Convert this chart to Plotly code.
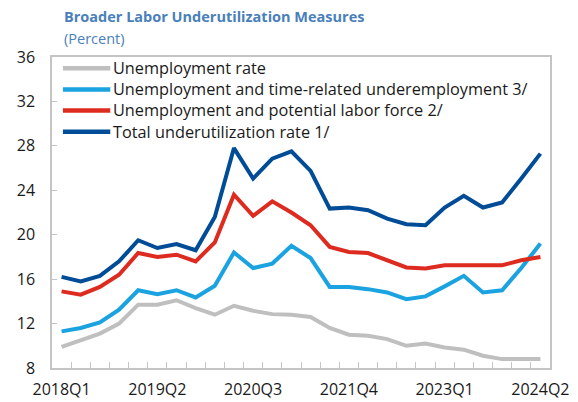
import plotly.graph_objects as go

quarters = [f"{y}Q{q}" for y in range(2018, 2025) for q in range(1, 5)][:26]

unemployment_rate = [9.9, 10.5, 11.1, 12.0, 13.7, 13.7, 14.1, 13.4, 12.8, 13.6, 13.15, 12.85,
                     12.8, 12.6, 11.6, 11.0, 10.9, 10.6, 10.0, 10.2, 9.85, 9.65, 9.1, 8.8, 8.8, 8.8]
time_related = [11.3, 11.6, 12.1, 13.25, 15.0, 14.65, 15.0, 14.35, 15.4, 18.4, 17.0, 17.4,
                19.0, 17.9, 15.3, 15.3, 15.1, 14.8, 14.2, 14.45, 15.35, 16.3, 14.8, 15.0, 17.0, 19.2]
potential_lf = [14.9, 14.6, 15.3, 16.4, 18.35, 18.0, 18.2, 17.6, 19.3, 23.6, 21.7, 23.0,
                22.0, 20.85, 18.9, 18.45, 18.35, 17.7, 17.05, 16.95, 17.25, 17.25, 17.25, 17.25, 17.7, 18.0]
total_rate = [16.2, 15.8, 16.3, 17.6, 19.5, 18.8, 19.15, 18.6, 21.6, 27.8, 25.05, 26.85,
              27.5, 25.75, 22.35, 22.45, 22.2, 21.45, 20.95, 20.85, 22.45, 23.5, 22.45, 22.9, 25.05, 27.3]

series = [
    ("Unemployment rate", unemployment_rate, "#BFBFBF"),
    ("Unemployment and time-related underemployment 3/", time_related, "#1AA3E0"),
    ("Unemployment and potential labor force 2/", potential_lf, "#DE2B20"),
    ("Total underutilization rate 1/", total_rate, "#004C97"),
]

label_idx = [0, 5, 10, 15, 20, 25]
x = list(range(len(quarters)))

font_family = "Open Sans"
axis_color = "#C4C4C4"
text_color = "#1a1a1a"
title_color = "#4A80BA"

fig = go.Figure()
for name, vals, color in series:
    fig.add_trace(go.Scatter(x=x, y=vals, mode="lines", name=name, showlegend=False,
                             line=dict(color=color, width=4)))

# Hand-placed legend: one line sample per series next to a stacked block of labels
legend_font = 16.3
legend_y = [0.964, 0.8958, 0.8277, 0.7595]
shapes = [
    dict(type="line", xref="paper", yref="paper", x0=0.022, x1=0.117, y0=ly, y1=ly,
         line=dict(color=color, width=4.5))
    for (_, _, color), ly in zip(series, legend_y)
]
annotations = [
    dict(text="<br>".join(name for name, _, _ in series), xref="paper", yref="paper",
         x=0.119, y=sum(legend_y) / 4, xanchor="left", yanchor="middle", align="left",
         showarrow=False, font=dict(size=legend_font, color=text_color)),
    dict(text="<b>Broader Labor Underutilization Measures</b>", xref="paper", yref="paper",
         x=0.02, y=1.0, xanchor="left", yanchor="bottom", yshift=29, showarrow=False,
         font=dict(size=14.5, color=title_color)),
    dict(text="(Percent)", xref="paper", yref="paper",
         x=0.02, y=1.0, xanchor="left", yanchor="bottom", yshift=7, showarrow=False,
         font=dict(size=14.5, color=title_color)),
]

fig.update_layout(
    width=578, height=402,
    margin=dict(l=52, r=28, t=57, b=34),
    paper_bgcolor="white", plot_bgcolor="white",
    font=dict(family=font_family, size=16, color=text_color),
    showlegend=False,
    shapes=shapes,
    annotations=annotations,
)

fig.update_xaxes(
    range=[-0.5, 25.5], automargin=False,
    tickmode="array", tickvals=label_idx, ticktext=[quarters[i] for i in label_idx],
    ticks="", showgrid=False, zeroline=False, ticklabelstandoff=6,
    showline=True, linecolor=axis_color, linewidth=1.5, mirror=True,
    minor=dict(tickmode="array", tickvals=[i - 0.5 for i in range(1, 26)],
               ticks="inside", ticklen=6, tickcolor=axis_color, tickwidth=1, showgrid=False),
)
fig.update_yaxes(
    range=[8, 36], tickmode="array", tickvals=list(range(8, 37, 4)), automargin=False,
    ticks="inside", ticklen=5, tickcolor=axis_color, ticklabelstandoff=12,
    showgrid=False, zeroline=False,
    showline=True, linecolor=axis_color, linewidth=1.5, mirror=True,
)

fig.write_html("out.html")
